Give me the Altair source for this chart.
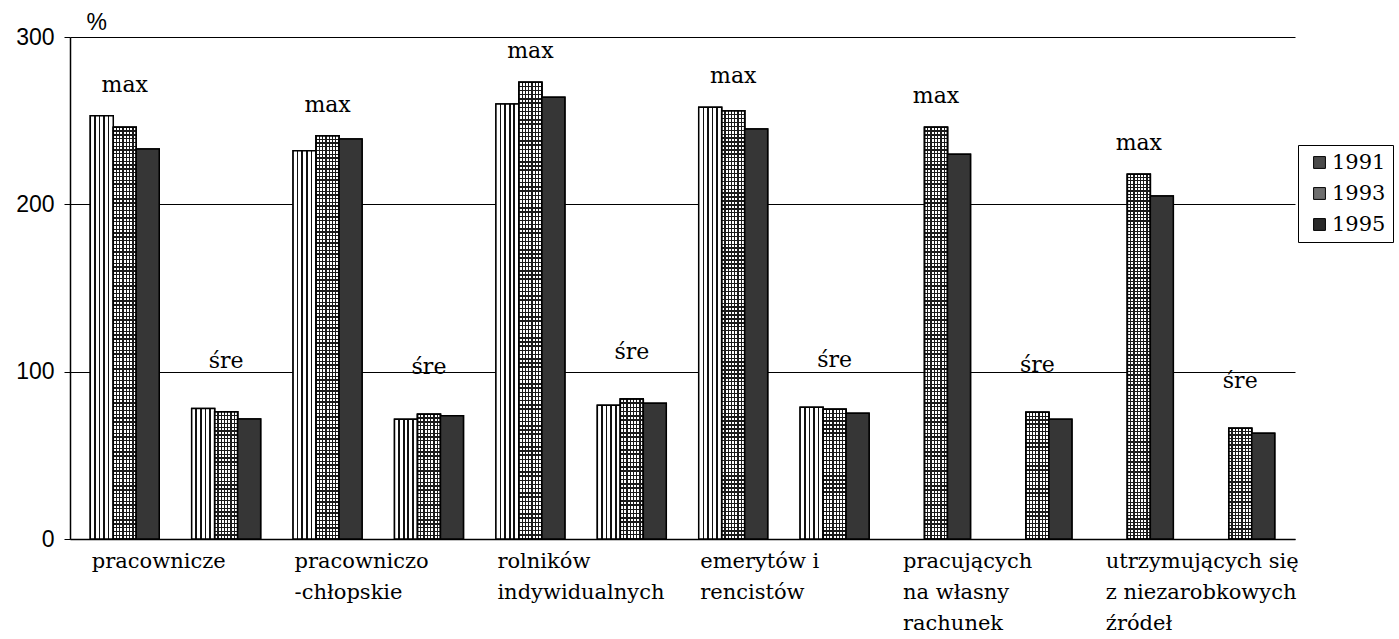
import altair as alt
import pandas as pd

# ---- data ----
categories = [
    ["pracownicze"],
    ["pracowniczo", "-chłopskie"],
    ["rolników", "indywidualnych"],
    ["emerytów i", "rencistów"],
    ["pracujących", "na własny", "rachunek"],
    ["utrzymujących się", "z niezarobkowych", "źródeł"],
]
groups = ["max", "śre"]
years = ["1991", "1993", "1995"]

max_1991 = [253, 232, 260, 258, None, None]
max_1993 = [246, 241, 273, 256, 246, 218]
max_1995 = [233, 239, 264, 245, 230, 205]
sre_1991 = [78, 71.5, 80, 78.7, None, None]
sre_1993 = [76, 74.5, 83.7, 77.5, 75.7, 66.2]
sre_1995 = [71.7, 73.7, 81.1, 75.1, 71.5, 63.2]

series = {
    ("max", "1991"): max_1991,
    ("max", "1993"): max_1993,
    ("max", "1995"): max_1995,
    ("śre", "1991"): sre_1991,
    ("śre", "1993"): sre_1993,
    ("śre", "1995"): sre_1995,
}

rows = []
slot_order = []
for i, cat in enumerate(categories):
    label = "~".join(cat)
    for g in groups:
        slot = f"{label}|{g}"
        slot_order.append(slot)
        for y in years:
            v = series[(g, y)][i]
            if v is not None:
                rows.append({"slot": slot, "group": g, "year": y, "value": v})
df = pd.DataFrame(rows)

# ---- pattern helpers (styles) ----
def vstripes(n, w, bg, fg, horizontal=False):
    stops = [alt.GradientStop(offset=0, color=bg)]
    for k in range(1, n + 1):
        c = k / (n + 1)
        stops += [
            alt.GradientStop(offset=round(c - w, 5), color=bg),
            alt.GradientStop(offset=round(c - w, 5), color=fg),
            alt.GradientStop(offset=round(c + w, 5), color=fg),
            alt.GradientStop(offset=round(c + w, 5), color=bg),
        ]
    stops.append(alt.GradientStop(offset=1, color=bg))
    if horizontal:
        return alt.Gradient(gradient="linear", stops=stops, x1=0, x2=0, y1=0, y2=1)
    return alt.Gradient(gradient="linear", stops=stops, x1=0, x2=1, y1=0, y2=0)

SERIF = "DejaVu Serif"
SANS = "Liberation Sans"

x_enc = alt.X(
    "slot:N",
    sort=slot_order,
    scale=alt.Scale(domain=slot_order, paddingInner=0.32, paddingOuter=0.2),
    axis=alt.Axis(
        title=None,
        labelExpr="indexof(datum.label, '|max') >= 0 ? split(replace(datum.label, '|max', ''), '~') : ''",
        labelAlign="left",
        labelBaseline="top",
        labelAngle=0,
        labelOffset=-33,
        labelFont=SERIF,
        labelFontSize=21,
        labelLineHeight=31,
        labelColor="black",
        labelPadding=11,
        labelLimit=400,
        labelOverlap=False,
        ticks=False,
        domainColor="black",
        domainWidth=1.5,
        grid=False,
    ),
)
xoff = alt.XOffset("year:N", scale=alt.Scale(domain=years, paddingInner=0, paddingOuter=0))
y_enc = alt.Y(
    "value:Q",
    scale=alt.Scale(domain=[0, 300], nice=False),
    axis=alt.Axis(
        values=[0, 100, 200, 300],
        grid=True,
        gridColor="black",
        gridWidth=1,
        domainColor="black",
        domainWidth=1.5,
        tickColor="black",
        tickSize=6,
        labelFont=SANS,
        labelFontSize=23,
        labelColor="black",
        labelPadding=10,
        title="%",
        titleAngle=0,
        titleAlign="left",
        titleBaseline="alphabetic",
        titleX=16,
        titleY=-8,
        titleFont=SANS,
        titleFontSize=23,
        titleFontWeight="normal",
        titleColor="black",
    ),
)

base = alt.Chart(df)

bars = base.mark_bar(stroke="black", strokeWidth=1.5).encode(
    x=x_enc,
    xOffset=xoff,
    y=y_enc,
    color=alt.Color(
        "year:N",
        scale=alt.Scale(domain=years, range=["#4a4a4a", "#6e6e6e", "#2a2a2a"]),
        legend=alt.Legend(
            title=None,
            orient="none",
            legendX=1228,
            legendY=108,
            strokeColor="black",
            padding=7,
            symbolOffset=4,
            symbolType="square",
            symbolSize=140,
            symbolStrokeColor="black",
            symbolStrokeWidth=1,
            labelFont=SERIF,
            labelFontSize=21,
            labelColor="black",
            rowPadding=9,
            labelOffset=2,
        ),
    ),
)

enc_plain = dict(x=alt.X("slot:N", sort=slot_order), xOffset=xoff, y=alt.Y("value:Q"))

p1991 = base.transform_filter("datum.year == '1991'").mark_bar(
    stroke="black", strokeWidth=1.5, fill=vstripes(4, 0.035, "#ffffff", "#111111")
).encode(**enc_plain)

p1993v = base.transform_filter("datum.year == '1993'").mark_bar(
    stroke="black", strokeWidth=1.5, fill=vstripes(6, 0.028, "#ffffff", "#1a1a1a")
).encode(**enc_plain)

p1993h_max = base.transform_filter("datum.year == '1993' && datum.group == 'max'").mark_bar(
    stroke="black", strokeWidth=1.5,
    fill=vstripes(108, 0.0016, "rgba(0,0,0,0)", "#1a1a1a", horizontal=True),
).encode(**enc_plain)

p1993h_sre = base.transform_filter("datum.year == '1993' && datum.group == 'śre'").mark_bar(
    stroke="black", strokeWidth=1.5,
    fill=vstripes(32, 0.0052, "rgba(0,0,0,0)", "#1a1a1a", horizontal=True),
).encode(**enc_plain)

p1995 = base.transform_filter("datum.year == '1995'").mark_bar(
    stroke="black", strokeWidth=1.5, fill="#363636"
).encode(**enc_plain)

max_txt = base.transform_filter("datum.group == 'max'").transform_aggregate(
    top="max(value)", groupby=["slot", "group"]
).mark_text(font=SERIF, fontSize=22, color="black", baseline="alphabetic", dy=-24).encode(
    x=alt.X("slot:N", sort=slot_order), y=alt.Y("top:Q"), text="group:N"
)
sre_txt = base.transform_filter("datum.group == 'śre'").transform_aggregate(
    top="max(value)", groupby=["slot", "group"]
).mark_text(font=SERIF, fontSize=22, color="black", baseline="alphabetic", dy=-40).encode(
    x=alt.X("slot:N", sort=slot_order), y=alt.Y("top:Q"), text="group:N"
)

chart = (
    alt.layer(bars, p1991, p1993v, p1993h_max, p1993h_sre, p1995, max_txt, sre_txt)
    .properties(
        width=1225,
        height=502,
        autosize=alt.AutoSizeParams(type="none"),
        padding={"left": 70, "top": 37, "right": 104, "bottom": 100},
        background="white",
    )
    .configure_view(stroke=None)
)

chart.save("out.html", embed_options={"renderer": "svg", "actions": False})
